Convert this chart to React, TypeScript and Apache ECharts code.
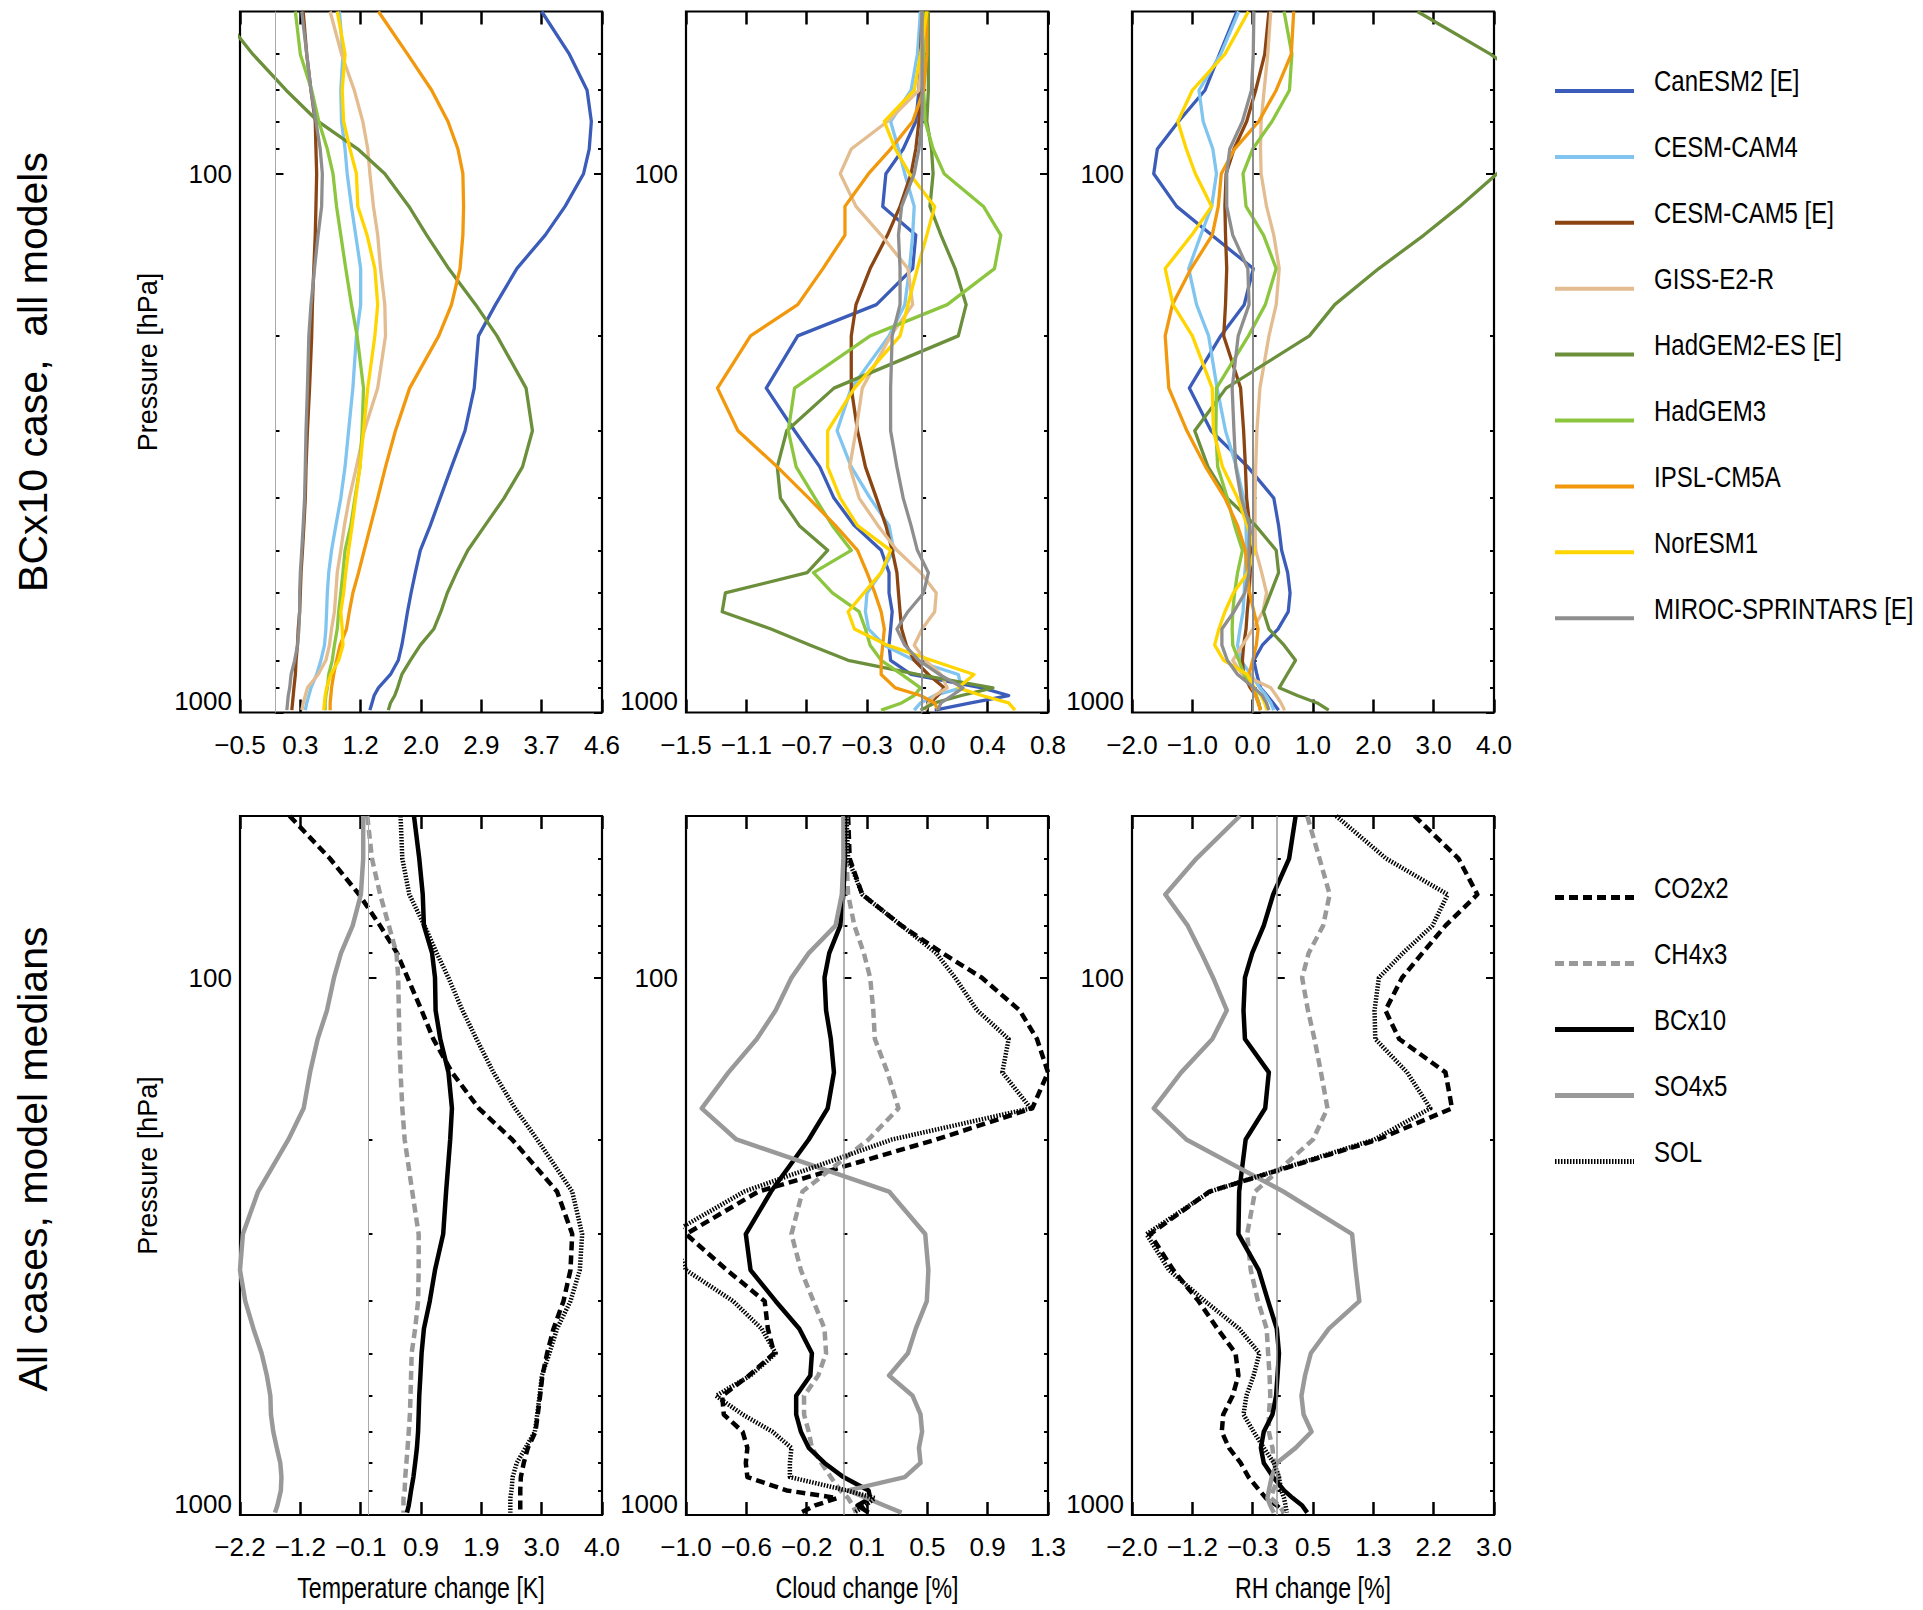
import React, { useEffect, useRef } from "react";
import * as echarts from "echarts";

// ---------- DATA ----------
// Pressure levels (hPa) shared by every profile
const PRESSURE = [50, 60, 70, 80, 90, 100, 115, 130, 150, 175, 200, 250, 300, 350, 400, 450, 500, 550, 600, 650, 700, 750, 800, 850, 900, 930, 960, 990];

const MODELS = ["CanESM2 [E]", "CESM-CAM4", "CESM-CAM5 [E]", "GISS-E2-R", "HadGEM2-ES [E]", "HadGEM3", "IPSL-CM5A", "NorESM1", "MIROC-SPRINTARS [E]"];
const CASES = ["CO2x2", "CH4x3", "BCx10", "SO4x5", "SOL"];
const X_TITLES = ["Temperature change [K]", "Cloud change [%]", "RH change [%]"];
const ROW_TITLES = ["BCx10 case,  all models", "All cases, model medians"];
const Y_TITLE = "Pressure [hPa]";

const P_MAJOR = [100, 1000];
const P_MINOR = [60, 70, 80, 90, 200, 300, 400, 500, 600, 700, 800, 900];

const TOP_TEMP_TICKS = ["\u22120.5", "0.3", "1.2", "2.0", "2.9", "3.7", "4.6"];
const TOP_CLOUD_TICKS = ["\u22121.5", "\u22121.1", "\u22120.7", "\u22120.3", "0.0", "0.4", "0.8"];
const TOP_RH_TICKS = ["\u22122.0", "\u22121.0", "0.0", "1.0", "2.0", "3.0", "4.0"];
const BOT_TEMP_TICKS = ["\u22122.2", "\u22121.2", "\u22120.1", "0.9", "1.9", "3.0", "4.0"];
const BOT_CLOUD_TICKS = ["\u22121.0", "\u22120.6", "\u22120.2", "0.1", "0.5", "0.9", "1.3"];
const BOT_RH_TICKS = ["\u22122.0", "\u22121.2", "\u22120.3", "0.5", "1.3", "2.2", "3.0"];

// BCx10, all models: temperature change [K]
const T_CANESM2 = [3.75, 4.14, 4.39, 4.45, 4.42, 4.34, 4.08, 3.80, 3.40, 3.10, 2.86, 2.80, 2.67, 2.48, 2.32, 2.18, 2.04, 1.97, 1.91, 1.86, 1.82, 1.78, 1.73, 1.62, 1.45, 1.39, 1.36, 1.33];
const T_CAM4 = [0.90, 0.95, 0.92, 0.93, 0.98, 1.01, 1.07, 1.13, 1.20, 1.20, 1.14, 1.09, 1.03, 0.98, 0.92, 0.85, 0.79, 0.75, 0.73, 0.72, 0.71, 0.69, 0.64, 0.58, 0.50, 0.47, 0.44, 0.42];
const T_CAM5 = [0.39, 0.44, 0.50, 0.56, 0.57, 0.58, 0.57, 0.56, 0.54, 0.52, 0.51, 0.48, 0.45, 0.43, 0.42, 0.40, 0.38, 0.36, 0.35, 0.34, 0.32, 0.31, 0.29, 0.28, 0.26, 0.25, 0.24, 0.23];
const T_GISS = [0.77, 0.93, 1.11, 1.23, 1.30, 1.33, 1.38, 1.44, 1.48, 1.54, 1.55, 1.44, 1.25, 1.14, 1.04, 0.97, 0.92, 0.87, 0.85, 0.83, 0.79, 0.76, 0.71, 0.60, 0.45, 0.42, 0.39, 0.37];
const T_HADGEM2 = [-0.80, -0.32, 0.15, 0.60, 1.16, 1.54, 1.88, 2.13, 2.44, 2.82, 3.12, 3.53, 3.62, 3.48, 3.22, 2.95, 2.71, 2.55, 2.42, 2.33, 2.23, 2.04, 1.90, 1.78, 1.72, 1.68, 1.62, 1.59];
const T_HADGEM3 = [0.28, 0.35, 0.51, 0.61, 0.73, 0.81, 0.86, 0.92, 0.99, 1.07, 1.15, 1.24, 1.22, 1.19, 1.12, 1.06, 0.98, 0.95, 0.92, 0.89, 0.87, 0.83, 0.80, 0.75, 0.73, 0.71, 0.70, 0.70];
const T_IPSL = [1.45, 1.86, 2.20, 2.43, 2.57, 2.64, 2.65, 2.64, 2.60, 2.48, 2.30, 1.89, 1.69, 1.55, 1.44, 1.34, 1.25, 1.17, 1.09, 1.04, 1.00, 0.91, 0.86, 0.82, 0.79, 0.78, 0.77, 0.77];
const T_NORESM = [0.87, 0.98, 0.94, 0.96, 1.05, 1.14, 1.16, 1.29, 1.40, 1.44, 1.40, 1.30, 1.24, 1.19, 1.13, 1.08, 1.03, 0.99, 0.96, 0.92, 0.94, 0.95, 0.89, 0.78, 0.72, 0.70, 0.69, 0.68];
const T_MIROC = [0.37, 0.44, 0.50, 0.57, 0.63, 0.66, 0.65, 0.60, 0.55, 0.50, 0.47, 0.45, 0.43, 0.42, 0.41, 0.39, 0.37, 0.35, 0.34, 0.34, 0.33, 0.31, 0.27, 0.22, 0.20, 0.18, 0.17, 0.16];

// BCx10, all models: cloud change [%]
const C_CANESM2 = [-0.01, -0.01, -0.02, -0.04, -0.12, -0.23, -0.25, -0.04, -0.06, -0.29, -0.79, -0.99, -0.81, -0.65, -0.56, -0.43, -0.26, -0.21, -0.21, -0.19, -0.20, -0.21, -0.20, -0.07, 0.38, 0.55, 0.31, 0.08];
const C_CAM4 = [-0.01, -0.03, -0.07, -0.20, -0.15, -0.11, -0.05, -0.06, -0.08, -0.11, -0.21, -0.45, -0.54, -0.45, -0.33, -0.21, -0.18, -0.26, -0.35, -0.36, -0.34, -0.24, -0.05, 0.23, 0.25, 0.08, -0.01, -0.05];
const C_CAM5 = [0.00, -0.01, -0.01, -0.02, -0.04, -0.07, -0.14, -0.22, -0.33, -0.42, -0.45, -0.45, -0.41, -0.36, -0.29, -0.23, -0.19, -0.16, -0.15, -0.14, -0.13, -0.10, -0.05, 0.04, 0.14, 0.10, 0.05, 0.02];
const C_GISS = [0.00, 0.00, -0.02, -0.22, -0.45, -0.52, -0.42, -0.26, -0.09, -0.06, -0.20, -0.38, -0.42, -0.46, -0.40, -0.28, -0.16, -0.01, 0.09, 0.08, 0.00, -0.05, 0.02, 0.12, 0.16, 0.08, 0.04, 0.02];
const C_HADGEM2 = [0.04, 0.04, 0.04, 0.03, 0.06, 0.07, 0.05, 0.12, 0.21, 0.28, 0.23, -0.56, -0.86, -0.92, -0.90, -0.78, -0.60, -0.73, -1.25, -1.27, -0.96, -0.71, -0.47, -0.03, 0.45, 0.25, 0.08, -0.01];
const C_HADGEM3 = [0.01, 0.01, 0.01, 0.02, 0.07, 0.14, 0.39, 0.50, 0.46, 0.16, -0.33, -0.81, -0.85, -0.80, -0.68, -0.57, -0.45, -0.69, -0.57, -0.40, -0.36, -0.33, -0.26, -0.13, -0.01, -0.05, -0.13, -0.26];
const C_IPSL = [0.03, 0.03, 0.01, -0.06, -0.20, -0.34, -0.49, -0.49, -0.63, -0.79, -1.09, -1.30, -1.17, -0.92, -0.72, -0.55, -0.41, -0.35, -0.30, -0.26, -0.24, -0.25, -0.26, -0.26, -0.17, -0.01, 0.08, 0.10];
const C_NORESM = [0.03, -0.01, -0.05, -0.24, -0.17, -0.08, 0.08, 0.03, -0.03, -0.09, -0.14, -0.43, -0.60, -0.60, -0.52, -0.41, -0.20, -0.26, -0.37, -0.47, -0.43, -0.22, 0.06, 0.33, 0.23, 0.38, 0.55, 0.59];
const C_MIROC = [0.00, 0.00, 0.00, 0.00, -0.02, -0.05, -0.13, -0.15, -0.14, -0.14, -0.19, -0.20, -0.20, -0.16, -0.12, -0.07, -0.03, 0.04, 0.01, -0.09, -0.16, -0.11, -0.02, 0.11, 0.26, 0.19, 0.12, 0.10];

// BCx10, all models: RH change [%]
const R_CANESM2 = [-0.26, -0.55, -0.79, -1.23, -1.58, -1.64, -1.26, -0.68, 0.01, -0.14, -0.53, -1.05, -0.69, -0.08, 0.35, 0.43, 0.48, 0.58, 0.62, 0.59, 0.42, 0.16, 0.02, 0.07, 0.13, 0.24, 0.34, 0.43];
const R_CAM4 = [-0.23, -0.53, -0.89, -0.82, -0.66, -0.60, -0.68, -0.86, -1.06, -0.93, -0.73, -0.59, -0.45, -0.27, -0.15, -0.11, -0.10, -0.13, -0.14, -0.16, -0.21, -0.25, -0.20, -0.03, 0.12, 0.22, 0.30, 0.35];
const R_CAM5 = [0.27, 0.20, 0.05, -0.10, -0.31, -0.44, -0.46, -0.45, -0.43, -0.45, -0.48, -0.20, -0.15, -0.12, -0.10, -0.05, -0.03, -0.04, -0.06, -0.09, -0.11, -0.15, -0.17, -0.15, -0.04, 0.05, 0.10, 0.13];
const R_GISS = [0.30, 0.25, 0.19, 0.14, 0.13, 0.14, 0.23, 0.35, 0.44, 0.39, 0.27, 0.12, 0.07, 0.05, 0.04, 0.04, 0.05, 0.15, 0.23, 0.17, 0.00, -0.17, -0.33, -0.17, 0.30, 0.39, 0.47, 0.53];
const R_HADGEM2 = [2.73, 3.94, 4.80, 5.20, 4.90, 4.05, 3.43, 2.84, 2.09, 1.36, 0.94, -0.44, -0.96, -0.74, -0.42, 0.05, 0.39, 0.43, 0.30, 0.18, 0.27, 0.52, 0.71, 0.57, 0.44, 0.74, 1.07, 1.26];
const R_HADGEM3 = [0.52, 0.65, 0.61, 0.32, 0.00, -0.16, -0.11, 0.18, 0.39, 0.21, -0.07, -0.60, -0.61, -0.58, -0.42, -0.30, -0.17, -0.25, -0.30, -0.33, -0.34, -0.33, -0.23, -0.14, 0.02, 0.06, 0.10, 0.13];
const R_IPSL = [0.68, 0.64, 0.39, 0.10, -0.30, -0.52, -0.57, -0.67, -1.02, -1.33, -1.45, -1.39, -1.09, -0.78, -0.46, -0.25, -0.12, -0.09, -0.05, 0.02, 0.09, 0.06, 0.00, -0.06, -0.01, 0.05, 0.09, 0.13];
const R_NORESM = [-0.07, -0.46, -1.00, -1.24, -1.10, -0.95, -0.68, -1.01, -1.45, -1.32, -1.00, -0.67, -0.65, -0.50, -0.25, -0.09, 0.03, -0.08, -0.32, -0.46, -0.56, -0.63, -0.48, -0.09, 0.03, 0.14, 0.20, 0.24];
const R_MIROC = [0.02, 0.01, -0.02, -0.17, -0.38, -0.43, -0.43, -0.33, -0.08, -0.06, -0.24, -0.34, -0.31, -0.28, -0.19, -0.05, -0.06, -0.06, -0.13, -0.31, -0.51, -0.51, -0.42, -0.25, 0.02, 0.16, 0.23, 0.27];

// All cases, model medians: temperature change [K]
const BT_CO2 = [-1.35, -0.66, -0.16, 0.20, 0.49, 0.67, 0.91, 1.11, 1.43, 1.89, 2.46, 3.23, 3.49, 3.46, 3.34, 3.17, 3.06, 2.98, 2.94, 2.90, 2.86, 2.73, 2.66, 2.61, 2.60, 2.60, 2.60, 2.60];
const BT_CH4 = [-0.02, 0.06, 0.20, 0.35, 0.48, 0.51, 0.52, 0.53, 0.55, 0.58, 0.62, 0.75, 0.86, 0.86, 0.85, 0.80, 0.74, 0.73, 0.72, 0.71, 0.69, 0.67, 0.65, 0.63, 0.62, 0.60, 0.60, 0.60];
const BT_BC = [0.78, 0.87, 0.93, 0.95, 1.09, 1.14, 1.15, 1.23, 1.37, 1.43, 1.40, 1.33, 1.28, 1.14, 1.05, 0.95, 0.91, 0.89, 0.87, 0.86, 0.85, 0.83, 0.80, 0.77, 0.73, 0.71, 0.69, 0.66];
const BT_SO4 = [-0.09, -0.09, -0.13, -0.27, -0.47, -0.59, -0.71, -0.87, -1.00, -1.11, -1.37, -1.89, -2.15, -2.20, -2.11, -1.97, -1.83, -1.74, -1.68, -1.67, -1.63, -1.57, -1.51, -1.49, -1.50, -1.53, -1.56, -1.60];
const BT_SOL = [0.55, 0.58, 0.70, 0.96, 1.17, 1.37, 1.61, 1.85, 2.14, 2.51, 2.89, 3.49, 3.66, 3.62, 3.46, 3.23, 3.10, 2.97, 2.93, 2.89, 2.85, 2.69, 2.54, 2.47, 2.45, 2.43, 2.43, 2.43];

// All cases, model medians: cloud change [%]
const BC_CO2 = [0.03, 0.04, 0.12, 0.37, 0.63, 0.88, 1.12, 1.23, 1.30, 1.20, 0.59, -0.54, -1.00, -0.74, -0.50, -0.48, -0.44, -0.60, -0.77, -0.76, -0.64, -0.61, -0.62, -0.61, -0.36, -0.04, -0.18, -0.27];
const BC_CH4 = [0.02, 0.02, 0.03, 0.07, 0.13, 0.17, 0.19, 0.20, 0.28, 0.35, 0.16, -0.26, -0.33, -0.27, -0.19, -0.12, -0.11, -0.16, -0.25, -0.25, -0.22, -0.20, -0.14, -0.08, -0.02, 0.03, 0.06, 0.08];
const BC_BC = [0.01, 0.01, 0.00, -0.02, -0.09, -0.12, -0.11, -0.08, -0.06, -0.10, -0.22, -0.46, -0.62, -0.59, -0.43, -0.28, -0.20, -0.21, -0.30, -0.30, -0.27, -0.22, -0.12, 0.00, 0.16, 0.17, 0.09, 0.16];
const BC_SO4 = [0.00, 0.00, -0.01, -0.05, -0.22, -0.33, -0.43, -0.55, -0.73, -0.90, -0.68, 0.29, 0.52, 0.54, 0.53, 0.46, 0.41, 0.29, 0.44, 0.49, 0.50, 0.48, 0.49, 0.39, 0.03, 0.15, 0.26, 0.37];
const BC_SOL = [0.02, 0.03, 0.12, 0.37, 0.59, 0.71, 0.85, 1.05, 1.01, 1.19, 0.31, -0.63, -1.10, -1.00, -0.70, -0.52, -0.43, -0.59, -0.81, -0.64, -0.45, -0.33, -0.34, -0.34, 0.02, 0.20, 0.14, 0.07];

// All cases, model medians: RH change [%]
const BR_CO2 = [1.90, 2.51, 2.77, 2.33, 2.01, 1.73, 1.50, 1.69, 2.33, 2.42, 1.40, -0.93, -1.75, -1.43, -1.08, -0.82, -0.57, -0.53, -0.61, -0.74, -0.76, -0.66, -0.50, -0.39, -0.24, -0.15, 0.00, 0.10];
const BR_CH4 = [0.42, 0.59, 0.73, 0.64, 0.44, 0.35, 0.43, 0.52, 0.61, 0.70, 0.50, -0.30, -0.41, -0.36, -0.26, -0.14, -0.12, -0.10, -0.09, -0.11, -0.11, -0.06, -0.04, 0.03, -0.05, -0.08, 0.03, 0.10];
const BR_BC = [0.26, 0.17, -0.05, -0.18, -0.34, -0.44, -0.46, -0.44, -0.11, -0.16, -0.43, -0.52, -0.53, -0.25, -0.12, 0.00, 0.03, 0.01, -0.01, -0.06, -0.18, -0.22, -0.18, -0.05, 0.10, 0.22, 0.35, 0.42];
const BR_SO4 = [-0.51, -1.11, -1.54, -1.23, -1.04, -0.88, -0.69, -0.89, -1.32, -1.70, -1.25, 0.09, 1.04, 1.09, 1.14, 0.72, 0.47, 0.39, 0.34, 0.37, 0.48, 0.26, 0.00, -0.07, -0.11, -0.13, -0.09, -0.04];
const BR_SOL = [0.82, 1.51, 2.36, 2.15, 1.74, 1.41, 1.35, 1.36, 1.80, 2.12, 1.35, -0.92, -1.80, -1.49, -0.99, -0.52, -0.24, -0.32, -0.42, -0.46, -0.32, -0.18, -0.04, 0.03, 0.06, 0.10, 0.12, 0.14];

// ---------- STYLE ----------
const MODEL_COLORS = ["#3b5cb8", "#80c4f0", "#8b4513", "#e3bc90", "#6b8f3a", "#8cc63e", "#f2980c", "#ffd500", "#8e8e8e"];
const GRAY = "#999999";
const CASE_STYLES = [
  { color: "#000000", type: [9, 5] },
  { color: GRAY, type: [9, 5] },
  { color: "#000000", type: "solid" },
  { color: GRAY, type: "solid" },
  { color: "#000000", type: [1.5, 1.5] },
];

const FONT = "'Liberation Sans', Arial, sans-serif";
const NARROW_SCALE = 0.8;
const TICK_FONT = 26;

const COL_LEFT = [240, 686, 1132];
const PANEL_W = 362;
const ROW_TOP = [11.5, 816];
const PANEL_H = [701, 699];

const PANELS = [
  { row: 0, col: 0, min: -0.5, max: 4.6, ticks: TOP_TEMP_TICKS, lines: [T_CANESM2, T_CAM4, T_CAM5, T_GISS, T_HADGEM2, T_HADGEM3, T_IPSL, T_NORESM, T_MIROC], zero: { color: "#aaaaaa", width: 1 } },
  { row: 0, col: 1, min: -1.5, max: 0.8, ticks: TOP_CLOUD_TICKS, lines: [C_CANESM2, C_CAM4, C_CAM5, C_GISS, C_HADGEM2, C_HADGEM3, C_IPSL, C_NORESM, C_MIROC], zero: { color: "#8e8e8e", width: 2 } },
  { row: 0, col: 2, min: -2.0, max: 4.0, ticks: TOP_RH_TICKS, lines: [R_CANESM2, R_CAM4, R_CAM5, R_GISS, R_HADGEM2, R_HADGEM3, R_IPSL, R_NORESM, R_MIROC], zero: { color: "#8e8e8e", width: 2 } },
  { row: 1, col: 0, min: -2.2, max: 4.0, ticks: BOT_TEMP_TICKS, lines: [BT_CO2, BT_CH4, BT_BC, BT_SO4, BT_SOL], zero: { color: "#aaaaaa", width: 1 } },
  { row: 1, col: 1, min: -1.0, max: 1.3, ticks: BOT_CLOUD_TICKS, lines: [BC_CO2, BC_CH4, BC_BC, BC_SO4, BC_SOL], zero: { color: "#999999", width: 1.5 } },
  { row: 1, col: 2, min: -2.0, max: 3.0, ticks: BOT_RH_TICKS, lines: [BR_CO2, BR_CH4, BR_BC, BR_SO4, BR_SOL], zero: { color: "#999999", width: 1.5 } },
];

function buildOption() {
  const grid: any[] = [];
  const xAxis: any[] = [];
  const yAxis: any[] = [];
  const series: any[] = [];

  PANELS.forEach((pn, i) => {
    grid.push({
      left: COL_LEFT[pn.col], top: ROW_TOP[pn.row], width: PANEL_W, height: PANEL_H[pn.row],
      show: true, borderColor: "#000", borderWidth: 2.2, backgroundColor: "transparent",
      containLabel: false, outerBoundsMode: "none",
    });
    const interval = (pn.max - pn.min) / 6;
    const fmt = (v: number) => pn.ticks[Math.round((v - pn.min) / interval)] ?? "";
    const xBase = {
      type: "value", gridIndex: i, min: pn.min, max: pn.max, interval,
      axisLine: { show: false }, splitLine: { show: false },
      axisTick: { show: true, inside: true, length: 13, lineStyle: { color: "#000", width: 2.5 } },
    };
    xAxis.push({
      ...xBase, position: "bottom",
      axisLabel: { show: true, fontSize: TICK_FONT, fontFamily: FONT, color: "#000", margin: 19, formatter: fmt, showMinLabel: true, showMaxLabel: true },
    });
    xAxis.push({ ...xBase, position: "top", axisLabel: { show: false } });

    const yBase = {
      type: "log", logBase: 10, gridIndex: i, min: 50, max: 1000, inverse: true,
      axisLine: { show: false }, splitLine: { show: false }, axisLabel: { show: false },
    };
    const tickStyle = { color: "#000", width: 2 };
    yAxis.push({
      ...yBase, position: "left",
      axisTick: { show: true, inside: true, length: 8, lineStyle: tickStyle, customValues: P_MAJOR },
      axisLabel: {
        show: true, customValues: P_MAJOR, fontSize: TICK_FONT, fontFamily: FONT, color: "#000", margin: 8,
        formatter: (v: number) => (Math.round(v) === 1000 ? "{lo|1000}" : String(Math.round(v))),
        rich: { lo: { fontSize: TICK_FONT, fontFamily: FONT, color: "#000", padding: [0, 0, 23, 0] } },
      },
    });
    yAxis.push({ ...yBase, position: "left", axisTick: { show: true, inside: true, length: 4, lineStyle: tickStyle, customValues: P_MINOR } });
    yAxis.push({ ...yBase, position: "right", axisTick: { show: true, inside: true, length: 8, lineStyle: tickStyle, customValues: P_MAJOR } });
    yAxis.push({ ...yBase, position: "right", axisTick: { show: true, inside: true, length: 4, lineStyle: tickStyle, customValues: P_MINOR } });

    series.push({
      type: "line", xAxisIndex: 2 * i, yAxisIndex: 4 * i, data: [], silent: true, z: 1,
      markLine: {
        silent: true, symbol: ["none", "none"], label: { show: false }, animation: false,
        lineStyle: { color: pn.zero.color, width: pn.zero.width, type: "solid" },
        data: [{ xAxis: 0 }],
      },
    });

    pn.lines.forEach((vals, k) => {
      const isModel = pn.row === 0;
      const color = isModel ? MODEL_COLORS[k] : CASE_STYLES[k].color;
      const type = isModel ? "solid" : CASE_STYLES[k].type;
      series.push({
        type: "line",
        name: isModel ? MODELS[k] : CASES[k],
        xAxisIndex: 2 * i, yAxisIndex: 4 * i,
        data: PRESSURE.map((p, j) => [vals[j], p]),
        symbol: "none", showSymbol: false, silent: true, clip: true, z: 3,
        lineStyle: { color, width: isModel ? 3.3 : 4.5, type, cap: "butt", join: "round" },
        itemStyle: { color },
      });
    });
  });

  const graphic: any[] = [];
  const txt = (x: number, y: number, text: string, fontSize: number, opts: any = {}) => ({
    type: "text", x, y, rotation: opts.rotation || 0, scaleX: opts.scaleX || 1, scaleY: 1,
    style: { text, fontSize, fontFamily: FONT, fill: "#000", align: opts.align || "center", verticalAlign: "middle" },
  });
  // row titles
  graphic.push(txt(33, 372, ROW_TITLES[0], 41, { rotation: Math.PI / 2 }));
  graphic.push(txt(33, 1159, ROW_TITLES[1], 41, { rotation: Math.PI / 2 }));
  // y titles
  [0, 1].forEach((r) => {
    graphic.push(txt(148, ROW_TOP[r] + PANEL_H[r] / 2, Y_TITLE, 27, { rotation: Math.PI / 2 }));
  });
  // x titles (bottom row)
  X_TITLES.forEach((t, c) => {
    graphic.push(txt(COL_LEFT[c] + PANEL_W / 2, 1588, t, 29, { scaleX: NARROW_SCALE }));
  });
  // legends
  const LX1 = 1555, LX2 = 1634, TX = 1654;
  MODELS.forEach((name, k) => {
    const y = 91 + 65.9 * k;
    graphic.push({ type: "line", shape: { x1: LX1, y1: y, x2: LX2, y2: y }, style: { stroke: MODEL_COLORS[k], lineWidth: 4 } });
    graphic.push(txt(TX, y - 10, name, 30, { align: "left", scaleX: NARROW_SCALE }));
  });
  CASES.forEach((name, k) => {
    const y = 897.5 + 66 * k;
    const st = CASE_STYLES[k];
    graphic.push({ type: "line", shape: { x1: LX1, y1: y, x2: LX2, y2: y }, style: { stroke: st.color, lineWidth: 5, lineDash: Array.isArray(st.type) ? st.type : null } });
    graphic.push(txt(TX, y - 10, name, 30, { align: "left", scaleX: NARROW_SCALE }));
  });

  return {
    animation: false,
    backgroundColor: "#ffffff",
    textStyle: { fontFamily: FONT },
    grid, xAxis, yAxis, series, graphic,
  };
}

export default function App() {
  const ref = useRef<HTMLDivElement>(null);
  useEffect(() => {
    const chart = echarts.init(ref.current as HTMLDivElement, null, { renderer: "svg" });
    chart.setOption(buildOption() as any);
    return () => chart.dispose();
  }, []);
  return <div ref={ref} style={{ position: "absolute", left: 0, top: 0, width: 1923, height: 1610, background: "#fff" }} />;
}
